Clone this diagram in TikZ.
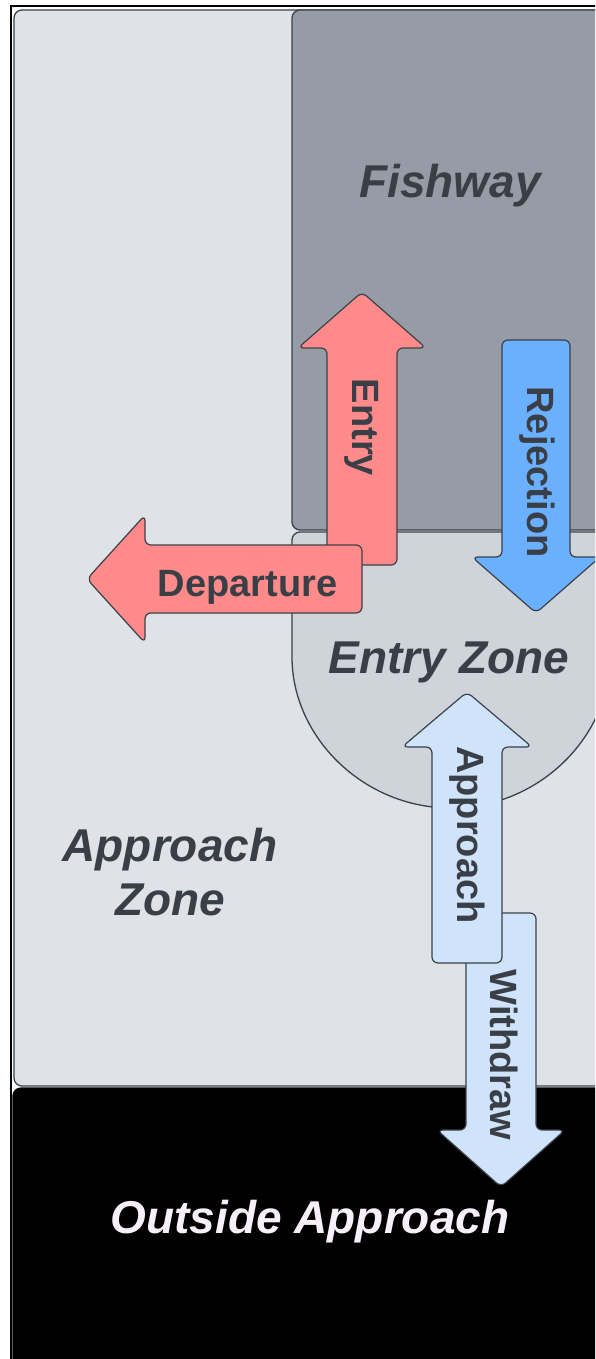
\documentclass[tikz,border=0pt]{standalone}
\usepackage{fontspec}
\setmainfont{Liberation Sans}

\definecolor{zonegray}{HTML}{DFE2E6}
\definecolor{fishgray}{HTML}{969CA5}
\definecolor{entrygray}{HTML}{CFD4DB}
\definecolor{edgegray}{HTML}{3B4149}
\definecolor{labelgray}{HTML}{3A3F47}
\definecolor{arrowred}{HTML}{FF8A8A}
\definecolor{arrowblue}{HTML}{6AB0FF}
\definecolor{arrowpale}{HTML}{CFE3FB}
\definecolor{outsidetext}{HTML}{F6F0FB}

\begin{document}
\begin{tikzpicture}[x=0.5pt, y=-0.5pt,
    zone/.style={draw=edgegray, line width=0.65pt, rounded corners=4pt},
    zonelabel/.style={font=\fontsize{23}{27}\selectfont\bfseries\itshape, text=labelgray, align=center, inner sep=0pt},
    blockarrow/.style={draw=edgegray, line width=0.6pt, rounded corners=3pt},
    arrowlabel/.style={font=\fontsize{19}{22}\selectfont\bfseries, text=labelgray, anchor=base, inner sep=0pt}]

    \clip (0,0) rectangle (595,1359);

    % Outer frame
    \draw[black, line width=1pt] (11,6.5) rectangle (700,1500);

    % Zones
    \draw[zone, fill=zonegray] (14,10) rectangle (640,1086);
    \draw[zone, fill=fishgray] (292,10) rectangle (640,530);
    \draw[zone, fill=entrygray] (610,532) -- (292,532) -- (292,649)
        arc[start angle=180, end angle=360, radius=79.5pt] -- cycle;
    \draw[zone, draw=black, fill=black] (13,1088) rectangle (640,1420);

    % Zone labels
    \node[zonelabel, anchor=base] (fishway) at (450,197) {Fishway};
    \node[zonelabel, anchor=base] (entryzone) at (449,673) {Entry Zone};
    \node[zonelabel] (approachzone) at (170,872) {Approach\\Zone};
    \node[zonelabel, anchor=base, text=outsidetext] (outside) at (310,1233) {Outside Approach};

    % Entry (up)
    \draw[blockarrow, fill=arrowred] (327,565) -- (327,348) -- (298,348) -- (362,292)
        -- (426,348) -- (397,348) -- (397,565) -- cycle;
    \node[arrowlabel, rotate=-90] (entry) at (352,427.5) {Entry};

    % Departure (left)
    \draw[blockarrow, fill=arrowred] (362,545) -- (145,545) -- (145,515) -- (87,579)
        -- (145,643) -- (145,613) -- (362,613) -- cycle;
    \node[arrowlabel] (departure) at (247.5,596) {Departure};

    % Rejection (down)
    \draw[blockarrow, fill=arrowblue] (502,340) -- (502,557) -- (472,557) -- (536,613)
        -- (600,557) -- (570,557) -- (570,340) -- cycle;
    \node[arrowlabel, rotate=-90] (rejection) at (527,472) {Rejection};

    % Withdraw (down)
    \draw[blockarrow, fill=arrowpale] (466,913) -- (466,1130) -- (437,1130) -- (501,1187)
        -- (565,1130) -- (536,1130) -- (536,913) -- cycle;
    \node[arrowlabel, rotate=-90] (withdraw) at (490,1055) {Withdraw};

    % Approach (up)
    \draw[blockarrow, fill=arrowpale] (432,963) -- (432,747) -- (402,747) -- (467,692)
        -- (532,747) -- (502,747) -- (502,963) -- cycle;
    \node[arrowlabel, rotate=-90] (approach) at (457,835) {Approach};

\end{tikzpicture}
\end{document}
